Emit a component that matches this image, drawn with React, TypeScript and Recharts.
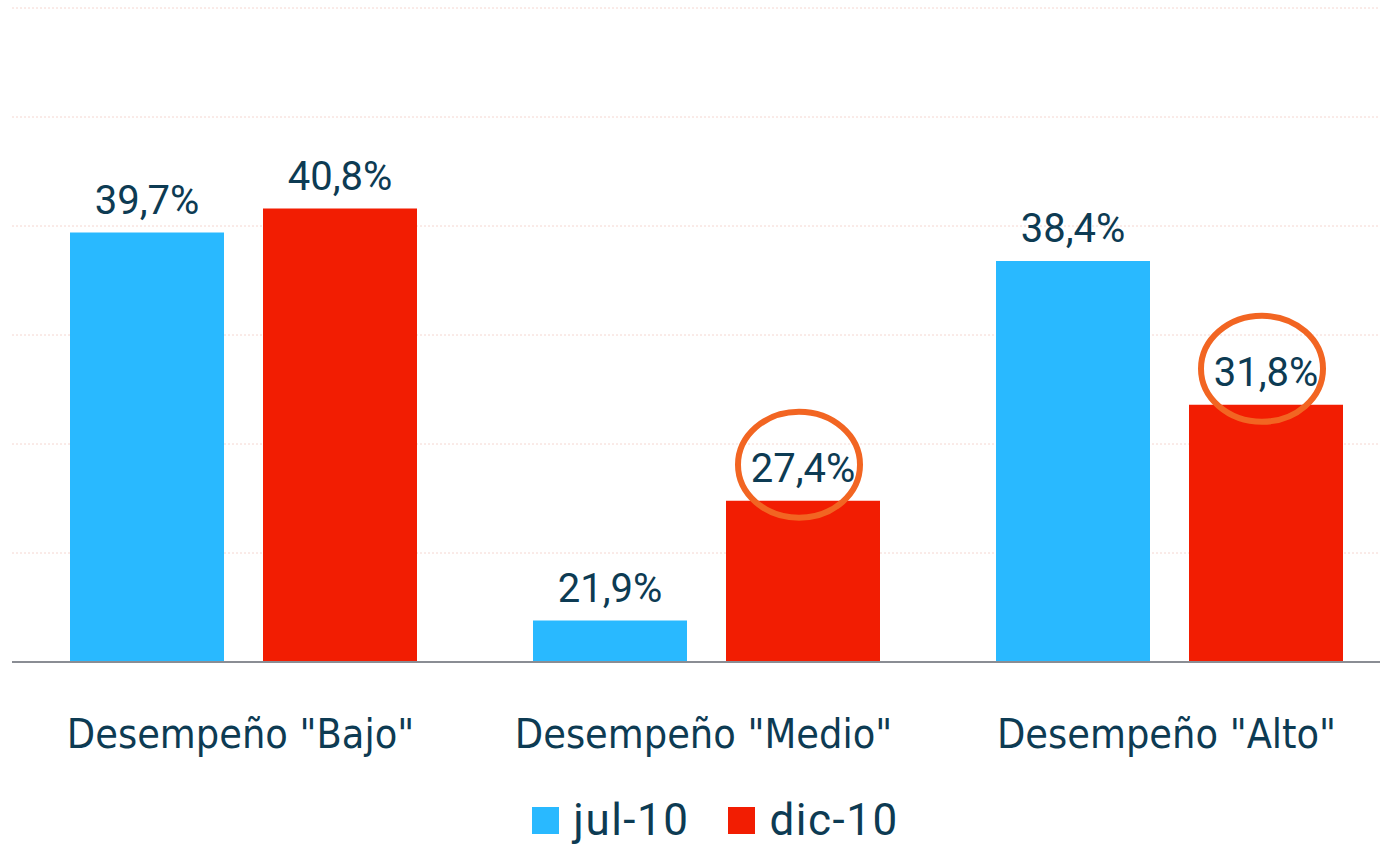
import { BarChart, Bar, XAxis, YAxis, CartesianGrid, Legend, LabelList } from 'recharts';

// ---------------------------------------------------------------------------
// Data
// ---------------------------------------------------------------------------

const categories = ['Desempeño "Bajo"', 'Desempeño "Medio"', 'Desempeño "Alto"'];
const jul10 = [39.7, 21.9, 38.4];
const dic10 = [40.8, 27.4, 31.8];
// which dic-10 labels are circled in the original
const dic10Circled = [false, true, true];
const yTicks = [20, 25, 30, 35, 40, 45, 50];

const seriesOrder = ['jul-10', 'dic-10'];

const BLUE = '#29b9ff';
const RED = '#f21d02';
const NAVY = '#0d3b53';
const RING = '#f26522';

const chartData = categories.map((c, i) => ({
  name: c,
  jul: jul10[i],
  dic: dic10[i],
}));

const fmt = (v: number) => v.toFixed(1).replace('.', ',') + '%';

// ---------------------------------------------------------------------------
// Custom renderers
// ---------------------------------------------------------------------------

function CategoryTick({ x, y, payload }: any) {
  return (
    <text
      x={x - 3}
      y={y + 84}
      textAnchor="middle"
      fill={NAVY}
      fontSize={41}
      fontFamily="'DejaVu Sans Condensed', 'DejaVu Sans', sans-serif"
    >
      {payload.value}
    </text>
  );
}

function makeValueLabel(circled: boolean[]) {
  return function ValueLabel({ x, y, width, value, index }: any) {
    const cx = x + width / 2;
    return (
      <g>
        <text
          x={cx}
          y={y - 19}
          textAnchor="middle"
          fill={NAVY}
          fontSize={40}
          fontFamily="Roboto, sans-serif"
        >
          {fmt(Number(value))}
        </text>
        {circled[index] && (
          <ellipse cx={cx - 4} cy={y - 36} rx={61} ry={53} fill="none" stroke={RING} strokeWidth={6} />
        )}
      </g>
    );
  };
}

function LegendContent({ payload }: any) {
  const items = [...(payload || [])].sort(
    (a: any, b: any) => seriesOrder.indexOf(a.value) - seriesOrder.indexOf(b.value)
  );
  return (
    <div
      style={{
        height: 62,
        boxSizing: 'border-box',
        paddingTop: 10,
        paddingLeft: 18,
        display: 'flex',
        justifyContent: 'center',
        alignItems: 'center',
        gap: 39,
        fontFamily: 'Roboto, sans-serif',
        fontSize: 44,
        letterSpacing: 1.5,
        color: NAVY,
        lineHeight: 1,
      }}
    >
      {items.map((p: any) => (
        <div key={p.value} style={{ display: 'flex', alignItems: 'center', gap: 14 }}>
          <span style={{ width: 27, height: 27, background: p.color, display: 'inline-block' }} />
          <span>{p.value}</span>
        </div>
      ))}
    </div>
  );
}

// ---------------------------------------------------------------------------
// Chart
// ---------------------------------------------------------------------------

export default function App() {
  return (
    <div style={{ position: 'absolute', left: 0, top: 0, width: 1380, height: 846, overflow: 'hidden', background: '#fff' }}>
      <BarChart
        width={1401}
        height={846}
        data={chartData}
        margin={{ top: 8, right: 0, left: 12, bottom: 0 }}
        barCategoryGap={58}
        barGap={39}
      >
        <CartesianGrid vertical={false} stroke="#f5d6d0" strokeDasharray="2 2" />
        <XAxis
          dataKey="name"
          height={122}
          tickLine={false}
          tickSize={0}
          axisLine={{ stroke: '#8a8d94', strokeWidth: 2 }}
          tick={<CategoryTick />}
          interval={0}
        />
        <YAxis hide domain={[20, 50]} ticks={yTicks} allowDataOverflow />
        <Legend verticalAlign="bottom" height={62} content={<LegendContent />} />
        <Bar dataKey="jul" name={seriesOrder[0]} fill={BLUE} isAnimationActive={false}>
          <LabelList dataKey="jul" content={makeValueLabel([false, false, false])} />
        </Bar>
        <Bar dataKey="dic" name={seriesOrder[1]} fill={RED} isAnimationActive={false}>
          <LabelList dataKey="dic" content={makeValueLabel(dic10Circled)} />
        </Bar>
      </BarChart>
    </div>
  );
}
